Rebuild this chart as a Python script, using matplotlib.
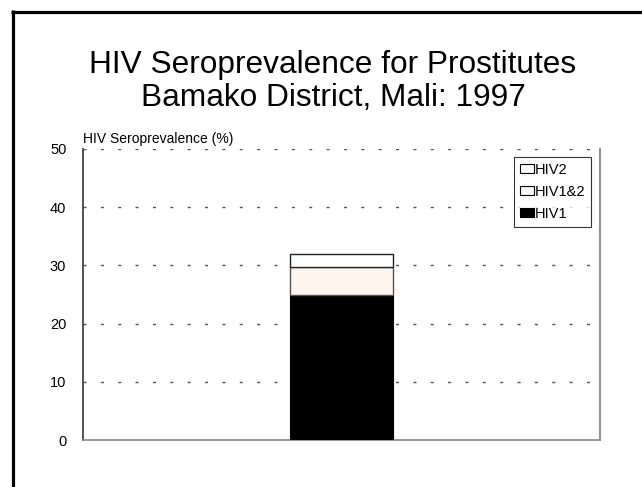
import matplotlib
matplotlib.use("Agg")
import matplotlib.pyplot as plt
from matplotlib.patches import Patch
from matplotlib.lines import Line2D

plt.rcParams['font.family'] = ['Liberation Sans', 'DejaVu Sans']

categories = ["1997"]
series_names = ["HIV1", "HIV1&2", "HIV2"]
hiv1 = [25.0]
hiv12 = [4.8]
hiv2 = [2.1]
yticks = [0, 10, 20, 30, 40, 50]
colors = {"HIV1": "#000000", "HIV1&2": "#fff5ee", "HIV2": "#ffffff"}

W, H = 642, 487
fig = plt.figure(figsize=(W / 100, H / 100), dpi=100)
fig.patch.set_facecolor("white")

# slide frame (top and left edges visible)
fig.add_artist(Line2D([11 / W, 1.0], [1 - 11.5 / H, 1 - 11.5 / H], color="black", lw=2.3,
                      transform=fig.transFigure, solid_capstyle="butt"))
fig.add_artist(Line2D([12.5 / W, 12.5 / W], [0, 1 - 10 / H], color="black", lw=2.3,
                      transform=fig.transFigure, solid_capstyle="butt"))

fig.text(333 / W, 1 - 65 / H, "HIV Seroprevalence for Prostitutes", ha="center", va="center",
         fontsize=22.8, color="black")
fig.text(333 / W, 1 - 98 / H, "Bamako District, Mali: 1997", ha="center", va="center",
         fontsize=22.8, color="black")

ax = fig.add_axes([83 / W, 47 / H, 517 / W, 291 / H])
x = list(range(len(categories)))
b1 = ax.bar(x, hiv1, width=1.0, color=colors["HIV1"], edgecolor="black", linewidth=0.8, zorder=3)
b2 = ax.bar(x, hiv12, width=1.0, bottom=hiv1, color=colors["HIV1&2"], edgecolor="#555555",
            linewidth=1.0, zorder=3)
bottom3 = [a + b for a, b in zip(hiv1, hiv12)]
b3 = ax.bar(x, hiv2, width=1.0, bottom=bottom3, color=colors["HIV2"], edgecolor="#222222",
            linewidth=1.0, zorder=4)

ax.set_xlim(-2.5, 2.5)
ax.set_ylim(0, 50)
ax.set_yticks(yticks)
ax.set_yticklabels([str(t) for t in yticks], fontsize=10.5)
ax.set_xticks([])
ax.tick_params(axis="y", length=0, pad=12)
for t in yticks:
    ax.axhline(t, color="#555555", lw=1.0, linestyle=(0, (2.2, 10.3)), zorder=2)

for s in ["top"]:
    ax.spines[s].set_visible(False)
ax.spines["left"].set_color("#333333")
ax.spines["left"].set_linewidth(1.2)
ax.spines["right"].set_color("#777777")
ax.spines["right"].set_linewidth(1.2)
ax.spines["bottom"].set_color("#888888")
ax.spines["bottom"].set_linewidth(1.2)

ax.text(0.0, 1.01, "HIV Seroprevalence (%)", transform=ax.transAxes, ha="left", va="bottom",
        fontsize=10)

handles = [Patch(facecolor=colors[n], edgecolor="black", linewidth=0.8) for n in ["HIV2", "HIV1&2", "HIV1"]]
leg = ax.legend(handles, ["HIV2", "HIV1&2", "HIV1"], loc="upper right",
                bbox_to_anchor=((591 - 83) / 517, (440 - 157) / 291),
                fontsize=10.5, frameon=True, fancybox=False, handlelength=0.95, handleheight=0.6,
                handletextpad=0.05, borderpad=0.4, labelspacing=0.55, borderaxespad=0)
leg.get_frame().set_edgecolor("black")
leg.get_frame().set_linewidth(0.8)
leg.set_zorder(5)

fig.savefig("out.png", dpi=100)
